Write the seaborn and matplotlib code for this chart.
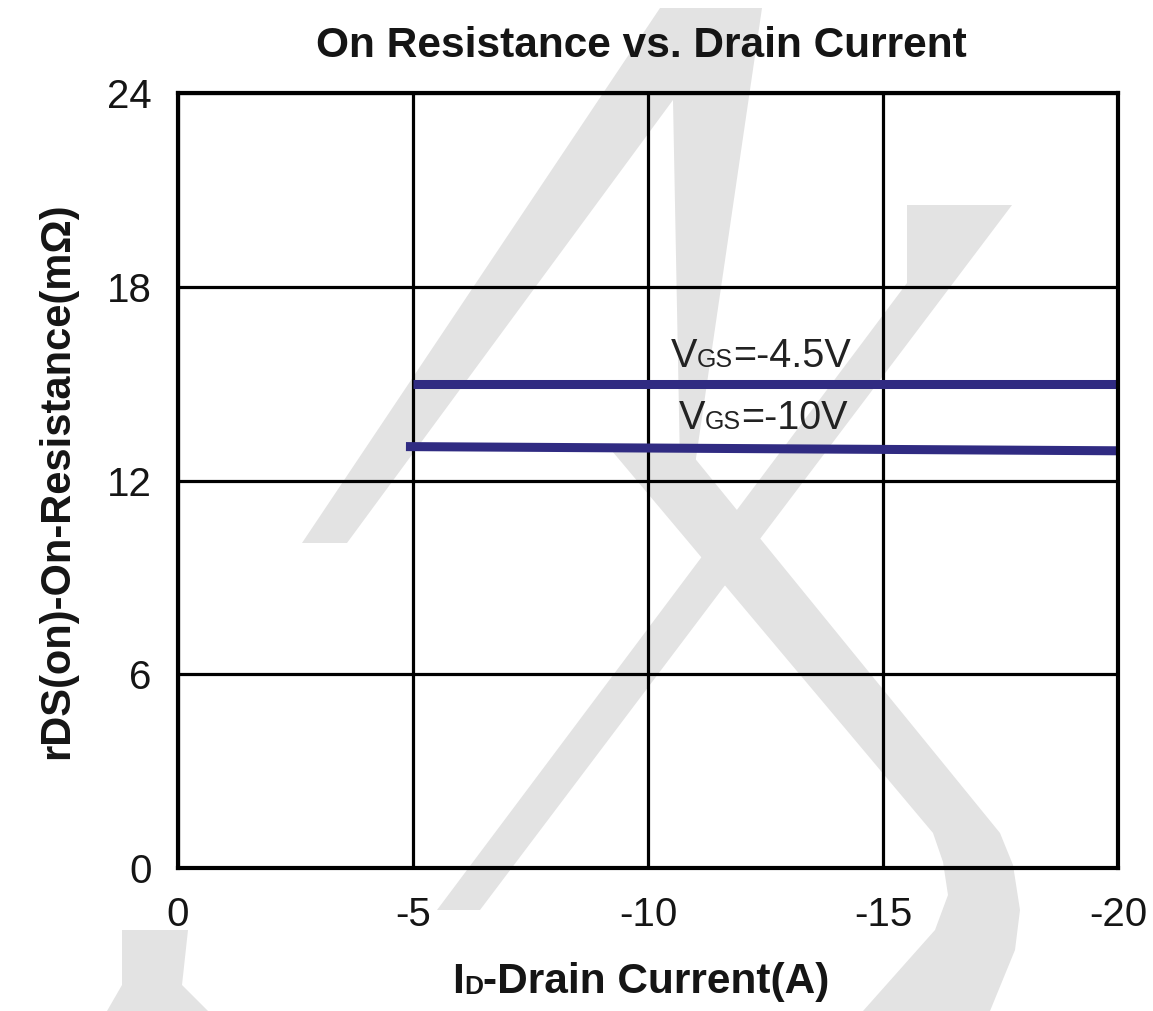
import pandas as pd
import matplotlib.pyplot as plt
import seaborn as sns
from matplotlib.patches import Polygon

# data
vgs_labels = ["-4.5V", "-10V"]
id_vgs45 = [-5.0, -20.0]
rds_vgs45 = [15.0, 15.0]
id_vgs10 = [-4.85, -20.0]
rds_vgs10 = [13.05, 12.92]
x_ticks = [0, -5, -10, -15, -20]
y_ticks = [0, 6, 12, 18, 24]

df = pd.DataFrame({
    "ID": id_vgs45 + id_vgs10,
    "RDS": rds_vgs45 + rds_vgs10,
    "VGS": [vgs_labels[0]] * len(id_vgs45) + [vgs_labels[1]] * len(id_vgs10),
})

sns.set_theme(style="white")
plt.rcParams["font.family"] = ["Liberation Sans", "DejaVu Sans"]
plt.rcParams["axes.unicode_minus"] = False

W, H = 1153, 1011
line_color = "#302b82"
text_color = "#151515"

fig = plt.figure(figsize=(W / 100, H / 100), dpi=100)
fig.patch.set_facecolor("white")


def px(x, y):
    # pixel position (from top-left) -> figure fraction
    return (x / W, 1 - y / H)


# light grey watermark behind the chart
watermark_shapes = [
    [(302, 543), (347, 543), (673, 100), (680, 465), (695, 465), (762, 8), (660, 8)],
    [(907, 205), (1012, 205), (480, 910), (437, 910), (907, 283)],
    [(607, 445), (684, 445), (1000, 833), (1013, 865), (1020, 910), (1015, 950), (990, 1011),
     (863, 1011), (935, 930), (948, 895), (943, 862), (933, 833)],
    [(122, 930), (188, 930), (182, 985), (208, 1011), (107, 1011), (122, 985)],
]
for pts in watermark_shapes:
    fig.add_artist(Polygon([px(*p) for p in pts], closed=True, transform=fig.transFigure,
                           facecolor="#e3e3e3", edgecolor="none", zorder=-1))

ax = fig.add_axes([178 / W, 1 - 868 / H, 940 / W, 775 / H])
ax.set_facecolor("none")

sns.lineplot(data=df, x="ID", y="RDS", hue="VGS", palette=[line_color] * 2,
             estimator=None, sort=False, lw=6.5, legend=False, ax=ax,
             solid_capstyle="butt")

ax.set_xlim(0, -20)
ax.set_ylim(0, 24)
ax.set_xticks(x_ticks)
ax.set_yticks(y_ticks)
ax.grid(True, color="black", lw=2.3)
for s in ax.spines.values():
    s.set_color("black")
    s.set_linewidth(3)
ax.tick_params(length=0, labelsize=29, labelcolor=text_color)
ax.tick_params(axis="x", pad=20)
ax.tick_params(axis="y", pad=19)

ax.set_title("On Resistance vs. Drain Current", fontsize=30.5, fontweight="bold",
             color=text_color, pad=26, x=0.4926)
ax.set_xlabel("")
ax.set_ylabel("rDS(on)-On-Resistance(mΩ)", fontsize=30, fontweight="bold", color=text_color)
ax.yaxis.set_label_coords(-0.107, 0.5)


def small_sub_text(x, y, parts, transform, **kw):
    # chain text pieces so the small "subscript" sits on the same baseline
    base = parts[0][1]
    first = ax.text(x, y, parts[0][0], transform=transform, fontsize=base,
                    va="baseline", ha="left", **kw)
    prev = first
    pieces = [first]
    for s, size in parts[1:]:
        shift = 0.21 * (base - size)
        prev = ax.annotate(s, xy=(1, 0), xycoords=(prev, first), xytext=(0, shift),
                           textcoords="offset points", fontsize=size, va="bottom",
                           ha="left", **kw)
        pieces.append(prev)
    return pieces


small_sub_text(-10.48, 15.51, [("V", 28.5), ("GS", 18), ("=" + vgs_labels[0], 28.5)],
               ax.transData, color="#222222")
small_sub_text(-10.65, 13.58, [("V", 28.5), ("GS", 18), ("=" + vgs_labels[1], 28.5)],
               ax.transData, color="#222222")

xlab = small_sub_text(0.5, 1 - 993 / H, [("I", 30.5), ("D", 19), ("-Drain Current(A)", 30.5)],
                      fig.transFigure, fontweight="bold", color=text_color)

# center the hand-built x label under the axes
fig.canvas.draw()
renderer = fig.canvas.get_renderer()
bbs = [t.get_window_extent(renderer) for t in xlab]
center = (min(b.x0 for b in bbs) + max(b.x1 for b in bbs)) / 2
xlab[0].set_x(0.5 + (641 - center) / W)

fig.savefig("out.png", dpi=100)
print("saved out.png")
